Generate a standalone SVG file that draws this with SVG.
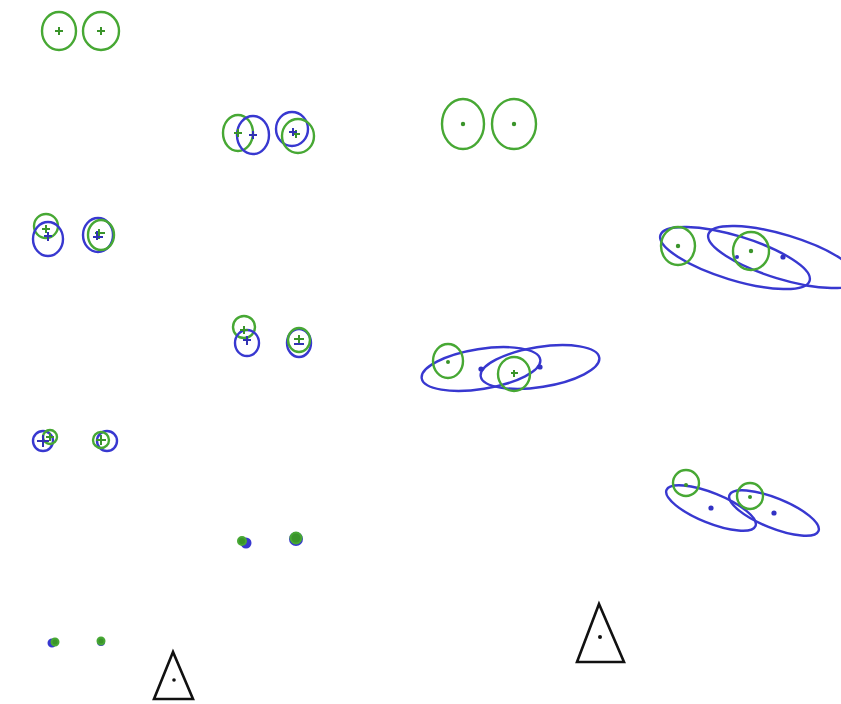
<svg xmlns="http://www.w3.org/2000/svg" width="841" height="704" viewBox="0 0 841 704">
<style>
.g{fill:none;stroke:#47a834;stroke-width:2.4}
.b{fill:none;stroke:#3838d0;stroke-width:2.4}
.gp{fill:none;stroke:#3a942a;stroke-width:2}
.bp{fill:none;stroke:#3232b4;stroke-width:2}
.gd{fill:#3a942a}
.bd{fill:#3232c4}
.tri{fill:none;stroke:#111;stroke-width:2.6;stroke-linejoin:miter}
.sg{fill:#3a942a;stroke:#47a834;stroke-width:2}
.sb{fill:#3838d0;stroke:#3838d0;stroke-width:2}
</style>
<rect width="841" height="704" fill="#fff"/>
<g id="pair-r1">
<ellipse class="g" cx="59" cy="31" rx="17" ry="19"/>
<ellipse class="g" cx="101" cy="31" rx="18" ry="19"/>
<path class="gp" d="M55 31h8M59 27v8M97 31h8M101 27v8"/>
</g>
<g id="pair-r2a">
<ellipse class="g" cx="238" cy="133" rx="15" ry="18"/>
<ellipse class="b" cx="253" cy="135" rx="16" ry="19"/>
<ellipse class="b" cx="292" cy="129" rx="16" ry="17"/>
<ellipse class="g" cx="298" cy="136" rx="16" ry="17"/>
<path class="gp" d="M234 133h8M238 129v8M292 134h8M296 130v8"/>
<path class="bp" d="M249 135h8M253 131v8M289 132h8M293 128v8"/>
</g>
<g id="pair-r2b">
<ellipse class="g" cx="463" cy="124" rx="21" ry="25"/>
<ellipse class="g" cx="514" cy="124" rx="22" ry="25"/>
<circle class="gd" cx="463" cy="124" r="2.2"/>
<circle class="gd" cx="514" cy="124" r="2.2"/>
</g>
<g id="pair-r3a">
<ellipse class="g" cx="46" cy="226" rx="12" ry="12"/>
<ellipse class="b" cx="48" cy="239" rx="15" ry="17"/>
<path class="gp" d="M42 229h8M46 225v8"/>
<path class="bp" d="M44 236h8M48 232v9"/>
<ellipse class="b" cx="98" cy="235" rx="15" ry="17"/>
<ellipse class="g" cx="101" cy="235" rx="13" ry="15"/>
<path class="gp" d="M95 233h10M99 229v10"/>
<path class="bp" d="M93 237h10M97 231v9"/>
</g>
<g id="pair-r3b">
<ellipse class="b" cx="735" cy="258" rx="78" ry="22" transform="rotate(17 735 258)"/>
<ellipse class="b" cx="783" cy="257" rx="78" ry="22" transform="rotate(17 783 257)"/>
<ellipse class="g" cx="678" cy="246" rx="17" ry="19"/>
<ellipse class="g" cx="751" cy="251" rx="18" ry="19"/>
<circle class="gd" cx="678" cy="246" r="2.2"/>
<circle class="gd" cx="751" cy="251" r="2.2"/>
<circle class="bd" cx="737" cy="257" r="2"/>
<circle class="bd" cx="783" cy="257" r="2.6"/>
</g>
<g id="pair-r4a">
<ellipse class="g" cx="244" cy="327" rx="11" ry="11"/>
<ellipse class="b" cx="247" cy="343" rx="12" ry="13"/>
<path class="gp" d="M240 330h8M244 326v8"/>
<path class="bp" d="M243 340h8M247 336v9"/>
<ellipse class="b" cx="299" cy="343" rx="12" ry="14"/>
<ellipse class="g" cx="299" cy="340" rx="11" ry="12"/>
<path class="gp" d="M294 339h10M299 335v8"/>
<path class="bp" d="M294 344h10"/>
</g>
<g id="pair-r4b">
<ellipse class="b" cx="481" cy="369" rx="60" ry="20" transform="rotate(-9 481 369)"/>
<ellipse class="b" cx="540" cy="367" rx="60" ry="20" transform="rotate(-9 540 367)"/>
<ellipse class="g" cx="448" cy="361" rx="15" ry="17"/>
<ellipse class="g" cx="514" cy="374" rx="16" ry="17"/>
<circle class="gd" cx="448" cy="362" r="2"/>
<path class="gp" d="M511 373h7M514 370v7"/>
<circle class="bd" cx="481" cy="369" r="2.6"/>
<circle class="bd" cx="540" cy="367" r="2.6"/>
</g>
<g id="pair-r5a">
<circle class="b" cx="43" cy="441" r="10"/>
<circle class="g" cx="50" cy="437" r="7"/>
<path class="bp" d="M37 441h12M43 435v12"/>
<path class="gp" d="M46 437h8M50 433v8"/>
<circle class="b" cx="107" cy="441" r="10"/>
<circle class="g" cx="101" cy="440" r="8"/>
<path class="gp" d="M96 440h10M101 435v10"/>
</g>
<g id="pair-r5b">
<ellipse class="b" cx="711" cy="508" rx="48" ry="15" transform="rotate(22 711 508)"/>
<ellipse class="b" cx="774" cy="513" rx="48" ry="15" transform="rotate(22 774 513)"/>
<circle class="g" cx="686" cy="483" r="13"/>
<circle class="g" cx="750" cy="496" r="13"/>
<circle class="gd" cx="686" cy="485" r="2"/>
<circle class="gd" cx="750" cy="497" r="2"/>
<circle class="bd" cx="711" cy="508" r="2.6"/>
<circle class="bd" cx="774" cy="513" r="2.6"/>
</g>
<g id="pair-r6">
<circle class="sb" cx="246" cy="543" r="4.5"/>
<circle class="sg" cx="242" cy="541" r="4"/>
<circle class="sb" cx="296" cy="539" r="6"/>
<circle class="sg" cx="296" cy="538" r="5.5"/>
</g>
<g id="pair-r7">
<circle class="sb" cx="52" cy="643" r="3.5"/>
<circle class="sg" cx="55" cy="642" r="3.5"/>
<circle class="sb" cx="101" cy="642" r="3"/>
<circle class="sg" cx="101" cy="641" r="3.5"/>
</g>
<g id="triangle-small">
<polygon class="tri" points="173,652 154,699 193,699"/>
<circle cx="174" cy="680" r="1.8" fill="#111"/>
</g>
<g id="triangle-large">
<polygon class="tri" points="599,604 577,662 624,662"/>
<circle cx="600" cy="637" r="2" fill="#111"/>
</g>
</svg>
